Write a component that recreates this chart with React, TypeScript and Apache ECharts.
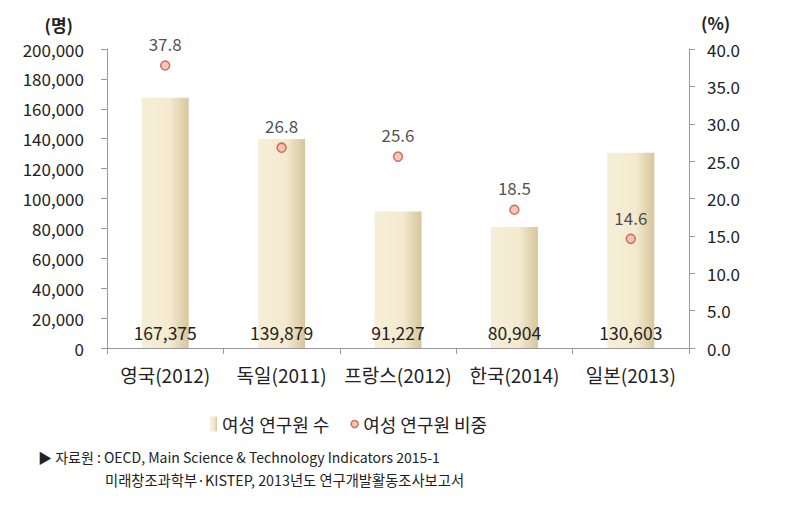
import React, { useEffect, useRef } from "react";
import * as echarts from "echarts";

const categories = ["영국(2012)", "독일(2011)", "프랑스(2012)", "한국(2014)", "일본(2013)"];
const researchers = [167375, 139879, 91227, 80904, 130603];
const shares = [37.8, 26.8, 25.6, 18.5, 14.6];
const barName = "여성 연구원 수";
const pointName = "여성 연구원 비중";
const sourceLine1 = "▶ 자료원 : OECD, Main Science & Technology Indicators 2015-1";
const sourceLine2 = "미래창조과학부·KISTEP, 2013년도 연구개발활동조사보고서";

const FONT = "'Noto Sans CJK KR', 'Noto Sans', sans-serif";

export default function App() {
  const ref = useRef<HTMLDivElement>(null);
  useEffect(() => {
    if (!ref.current) return;
    const chart = echarts.init(ref.current, undefined, { renderer: "svg" });
    const barGrad = new echarts.graphic.LinearGradient(0, 0, 1, 0, [
      { offset: 0, color: "#f6eed8" },
      { offset: 0.6, color: "#f4ead0" },
      { offset: 1, color: "#d6c69c" },
    ]);
    chart.setOption({
      animation: false,
      textStyle: { fontFamily: FONT },
      grid: { left: 107, right: 101, top: 49, bottom: 158 },
      legend: {
        top: 410,
        left: 205,
        itemGap: 21,
        itemWidth: 7,
        itemHeight: 15,
        textStyle: { fontSize: 18, color: "#222", fontFamily: FONT },
        data: [
          { name: barName, icon: "rect" },
          { name: pointName, icon: "circle", itemStyle: { color: "#f7b9a0", borderColor: "#c0504d", borderWidth: 1.5 } },
        ],
      },
      xAxis: {
        type: "category",
        data: categories,
        axisLine: { lineStyle: { color: "#999" } },
        axisTick: { show: true, length: 6, interval: 0, lineStyle: { color: "#999" } },
        axisLabel: { fontSize: 19, color: "#222", margin: 17, interval: 0, fontFamily: FONT },
      },
      yAxis: [
        {
          type: "value",
          min: 0,
          max: 200000,
          interval: 20000,
          name: "(명)",
          nameLocation: "end",
          nameGap: 16,
          nameTextStyle: { fontSize: 17, lineHeight: 17, fontWeight: "bold", color: "#222", align: "right", padding: [0, 34, 0, 0] },
          axisLine: { show: true, lineStyle: { color: "#999" } },
          axisTick: { show: true, length: 6, lineStyle: { color: "#999" } },
          splitLine: { show: false },
          axisLabel: {
            fontSize: 17,
            lineHeight: 17,
            color: "#222",
            margin: 23,
            formatter: (v: number) => v.toLocaleString("en-US"),
          },
        },
        {
          type: "value",
          min: 0,
          max: 40,
          interval: 5,
          name: "(%)",
          nameLocation: "end",
          nameGap: 18,
          nameTextStyle: { fontSize: 17, fontWeight: "bold", color: "#222", align: "left", padding: [0, 0, 0, 12] },
          axisLine: { show: true, lineStyle: { color: "#999" } },
          axisTick: { show: true, length: 6, lineStyle: { color: "#999" } },
          splitLine: { show: false },
          axisLabel: {
            fontSize: 17,
            color: "#222",
            margin: 18,
            formatter: (v: number) => v.toFixed(1),
          },
        },
      ],
      series: [
        {
          name: barName,
          type: "bar",
          data: researchers,
          barWidth: 47,
          itemStyle: { color: barGrad },
          label: {
            show: true,
            position: "insideBottom",
            distance: 7,
            fontSize: 17.5,
            color: "#222",
            formatter: (p: any) => Number(p.value).toLocaleString("en-US"),
          },
        },
        {
          name: pointName,
          type: "scatter",
          yAxisIndex: 1,
          data: shares,
          symbol: "circle",
          symbolSize: 9,
          itemStyle: { color: "#f7b9a0", borderColor: "#c0504d", borderWidth: 1.5 },
          label: {
            show: true,
            position: "top",
            distance: 8,
            fontSize: 17,
            color: "#222",
            formatter: (p: any) => Number(p.value).toFixed(1),
          },
        },
      ],
      graphic: [
        {
          type: "text",
          left: 38,
          top: 450,
          style: { text: sourceLine1, fontSize: 14, fill: "#222", fontFamily: FONT },
        },
        {
          type: "text",
          left: 105,
          top: 472,
          style: { text: sourceLine2, fontSize: 14.3, fill: "#222", fontFamily: FONT },
        },
      ],
    });
    return () => chart.dispose();
  }, []);
  return <div ref={ref} style={{ width: 790, height: 506, position: "absolute", left: 0, top: 0 }} />;
}
